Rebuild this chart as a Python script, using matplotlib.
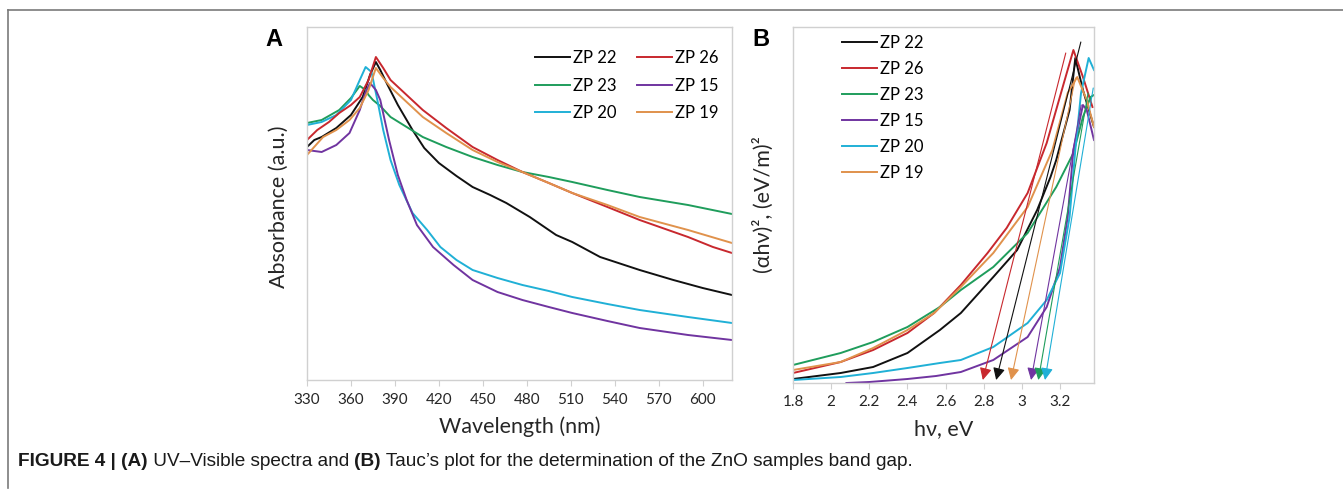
import matplotlib
matplotlib.use("Agg")
import matplotlib.pyplot as plt
from matplotlib.lines import Line2D

# ---- panel A: UV-Vis absorbance (arbitrary units) ----
samples_a = ["ZP 22", "ZP 23", "ZP 20", "ZP 26", "ZP 15", "ZP 19"]

wl_zp22 = [330, 335, 340, 350, 360, 368, 373, 377, 380, 385, 392, 402, 410, 420, 432, 443,
           455, 466, 482, 500, 511, 530, 557, 580, 600, 620]
abs_zp22 = [2.33, 2.40, 2.43, 2.52, 2.65, 2.83, 3.05, 3.18, 3.10, 2.95, 2.75, 2.50, 2.32, 2.17,
            2.04, 1.93, 1.85, 1.77, 1.63, 1.45, 1.38, 1.23, 1.10, 1.00, 0.92, 0.85]

wl_zp20 = [330, 340, 350, 360, 366, 370, 374, 378, 382, 387, 393, 402, 412, 421, 432, 443,
           460, 477, 495, 511, 535, 557, 590, 620]
abs_zp20 = [2.55, 2.58, 2.65, 2.80, 3.00, 3.13, 3.08, 2.80, 2.50, 2.20, 1.95, 1.67, 1.50, 1.33,
            1.20, 1.10, 1.02, 0.95, 0.89, 0.83, 0.76, 0.70, 0.63, 0.57]

wl_zp15 = [330, 340, 350, 359, 366, 370, 373, 377, 380, 386, 392, 398, 405, 416, 430, 443,
           460, 477, 495, 511, 535, 557, 590, 620]
abs_zp15 = [2.30, 2.28, 2.35, 2.47, 2.70, 2.88, 2.97, 2.90, 2.80, 2.40, 2.05, 1.80, 1.55, 1.33,
            1.15, 1.00, 0.88, 0.80, 0.73, 0.67, 0.59, 0.52, 0.45, 0.40]

wl_zp23 = [330, 340, 352, 360, 366, 370, 372, 375, 380, 387, 398, 409, 425, 443, 460, 477,
           495, 511, 535, 557, 590, 620]
abs_zp23 = [2.57, 2.60, 2.70, 2.82, 2.94, 2.90, 2.85, 2.80, 2.74, 2.63, 2.53, 2.43, 2.33, 2.23,
            2.15, 2.08, 2.03, 1.98, 1.90, 1.83, 1.75, 1.66]

wl_zp26 = [330, 337, 345, 352, 360, 366, 372, 377, 382, 387, 398, 409, 425, 443, 460, 477,
           495, 511, 535, 557, 590, 607, 620]
abs_zp26 = [2.40, 2.50, 2.58, 2.67, 2.75, 2.83, 3.00, 3.23, 3.12, 3.00, 2.85, 2.70, 2.52, 2.33,
            2.20, 2.08, 1.97, 1.87, 1.73, 1.60, 1.43, 1.33, 1.27]

wl_zp19 = [330, 341, 350, 359, 366, 372, 377, 382, 387, 398, 409, 425, 443, 460, 477, 495,
           511, 535, 557, 590, 620]
abs_zp19 = [2.25, 2.43, 2.50, 2.60, 2.72, 2.90, 3.12, 3.02, 2.93, 2.78, 2.63, 2.47, 2.30, 2.18,
            2.08, 1.97, 1.87, 1.75, 1.63, 1.50, 1.37]

wl_ticks = [330, 360, 390, 420, 450, 480, 510, 540, 570, 600]

# ---- panel B: Tauc plot ----
samples_b = ["ZP 22", "ZP 26", "ZP 23", "ZP 15", "ZP 20", "ZP 19"]

ev_zp22 = [1.8, 2.05, 2.22, 2.40, 2.57, 2.68, 2.85, 2.975, 3.08, 3.15, 3.18, 3.25, 3.28, 3.32, 3.378]
tauc_zp22 = [0.04, 0.10, 0.16, 0.30, 0.53, 0.70, 1.06, 1.33, 1.73, 2.06, 2.23, 2.73, 3.25, 2.93, 2.56]

ev_zp26 = [1.8, 2.05, 2.22, 2.40, 2.54, 2.68, 2.82, 2.92, 3.03, 3.13, 3.22, 3.27, 3.32, 3.37]
tauc_zp26 = [0.10, 0.21, 0.33, 0.50, 0.70, 0.98, 1.30, 1.55, 1.90, 2.40, 3.00, 3.33, 3.06, 2.76]

ev_zp23 = [1.8, 2.05, 2.22, 2.40, 2.57, 2.68, 2.85, 3.03, 3.18, 3.27, 3.32, 3.36, 3.378]
tauc_zp23 = [0.18, 0.30, 0.41, 0.56, 0.76, 0.93, 1.16, 1.50, 1.96, 2.30, 2.66, 2.86, 2.88]

ev_zp15 = [2.08, 2.20, 2.40, 2.55, 2.68, 2.85, 3.03, 3.13, 3.20, 3.24, 3.27, 3.32, 3.34, 3.378]
tauc_zp15 = [0.00, 0.01, 0.04, 0.07, 0.11, 0.23, 0.46, 0.76, 1.16, 1.66, 2.33, 2.78, 2.73, 2.43]

ev_zp20 = [1.8, 2.05, 2.22, 2.40, 2.57, 2.68, 2.85, 3.03, 3.13, 3.20, 3.25, 3.28, 3.31, 3.35, 3.378]
tauc_zp20 = [0.03, 0.06, 0.10, 0.15, 0.20, 0.23, 0.36, 0.60, 0.83, 1.10, 1.66, 2.33, 2.90, 3.25, 3.13]

ev_zp19 = [1.8, 2.05, 2.22, 2.40, 2.54, 2.68, 2.85, 3.03, 3.16, 3.24, 3.29, 3.34, 3.378]
tauc_zp19 = [0.13, 0.21, 0.35, 0.53, 0.70, 0.96, 1.30, 1.76, 2.33, 2.90, 3.06, 2.83, 2.56]

# band-gap extrapolation: (tip on axis, top end of tangent)
gap_order = ["ZP 26", "ZP 22", "ZP 19", "ZP 15", "ZP 23", "ZP 20"]
gap_ev = [2.795, 2.865, 2.943, 3.048, 3.086, 3.121]
tangent_top_ev = [3.23, 3.309, 3.281, 3.311, 3.347, 3.374]
tangent_top_y = [3.30, 3.41, 3.05, 2.78, 2.90, 2.95]

ev_ticks = [1.8, 2.0, 2.2, 2.4, 2.6, 2.8, 3.0, 3.2]
ev_tick_labels = ["1.8", "2", "2.2", "2.4", "2.6", "2.8", "3", "3.2"]

colors = {
    "ZP 22": "#111111",
    "ZP 26": "#c8282e",
    "ZP 23": "#1f9d5c",
    "ZP 15": "#7034a0",
    "ZP 20": "#20b0d6",
    "ZP 19": "#e0924c",
}

plt.rcParams["font.family"] = ["Lato", "DejaVu Sans"]
W, H = 1343, 500
fig = plt.figure(figsize=(W / 100, H / 100), dpi=100)

spine_col = "#d0d0d0"
text_col = "#262626"


def style_axes(ax):
    for s in ax.spines.values():
        s.set_color(spine_col)
        s.set_linewidth(1.0)
    ax.set_yticks([])
    ax.tick_params(axis="x", length=4, color=spine_col, labelsize=11,
                   labelcolor=text_col, pad=5)


# panel A
axA = fig.add_axes([307 / W, 1 - 380 / H, 425 / W, 353 / H])
data_a = {
    "ZP 22": (wl_zp22, abs_zp22),
    "ZP 23": (wl_zp23, abs_zp23),
    "ZP 20": (wl_zp20, abs_zp20),
    "ZP 26": (wl_zp26, abs_zp26),
    "ZP 15": (wl_zp15, abs_zp15),
    "ZP 19": (wl_zp19, abs_zp19),
}
for name in samples_a:
    x, y = data_a[name]
    axA.plot(x, y, color=colors[name], lw=1.4, label=name)
axA.set_xlim(330, 620)
axA.set_ylim(0, 3.53)
axA.set_xticks(wl_ticks)
style_axes(axA)
axA.set_xlabel("Wavelength (nm)", fontsize=15.5, color=text_col, labelpad=7)
axA.set_ylabel("Absorbance (a.u.)", fontsize=15.5, color=text_col)
axA.yaxis.set_label_coords(-0.042, 0.49)
axA.legend(ncol=2, loc="upper left", bbox_to_anchor=(535 / W, 1 - 50 / H),
           bbox_transform=fig.transFigure, frameon=False, fontsize=12,
           handlelength=2.1, handletextpad=0.2, columnspacing=1.2,
           labelspacing=0.7, borderpad=0, borderaxespad=0)

# panel B
axB = fig.add_axes([793 / W, 1 - 383 / H, 301 / W, 356 / H])
data_b = {
    "ZP 22": (ev_zp22, tauc_zp22),
    "ZP 26": (ev_zp26, tauc_zp26),
    "ZP 23": (ev_zp23, tauc_zp23),
    "ZP 15": (ev_zp15, tauc_zp15),
    "ZP 20": (ev_zp20, tauc_zp20),
    "ZP 19": (ev_zp19, tauc_zp19),
}
for name in samples_b:
    x, y = data_b[name]
    axB.plot(x, y, color=colors[name], lw=1.4, label=name)
for name, tip, tx, ty in zip(gap_order, gap_ev, tangent_top_ev, tangent_top_y):
    axB.annotate("", xy=(tip, 0.03), xytext=(tx, ty),
                 arrowprops=dict(arrowstyle="-|>,head_length=0.6,head_width=0.3",
                                 color=colors[name], lw=0.8, mutation_scale=12,
                                 shrinkA=0, shrinkB=0))
axB.set_xlim(1.8, 3.378)
axB.set_ylim(0, 3.56)
axB.set_xticks(ev_ticks)
axB.set_xticklabels(ev_tick_labels)
style_axes(axB)
axB.set_xlabel("hν, eV", fontsize=15.5, color=text_col, labelpad=7)
axB.set_ylabel("(αhν)², (eV/m)²", fontsize=15.5, color=text_col)
axB.yaxis.set_label_coords(-0.065, 0.5)
axB.legend(loc="upper left", bbox_to_anchor=(842 / W, 1 - 35 / H),
           bbox_transform=fig.transFigure, frameon=False, fontsize=12,
           handlelength=2.1, handletextpad=0.2, labelspacing=0.6,
           borderpad=0, borderaxespad=0)

# panel letters
fig.text(265 / W, 1 - 40 / H, "A", fontsize=17, fontweight="bold",
         family=["Liberation Sans", "DejaVu Sans"], va="center")
fig.text(752 / W, 1 - 40 / H, "B", fontsize=17, fontweight="bold",
         family=["Liberation Sans", "DejaVu Sans"], va="center")

# frame lines
fig.add_artist(Line2D([8 / W, 1], [1 - 10 / H, 1 - 10 / H], transform=fig.transFigure,
                      color="#7a7a7a", lw=1.2))
fig.add_artist(Line2D([8 / W, 8 / W], [1 - 10 / H, 1 - 488 / H], transform=fig.transFigure,
                      color="#7a7a7a", lw=1.2))

# caption with mixed bold / regular pieces
caption = [
    ("FIGURE 4 | ", "bold"),
    ("(A)", "bold"),
    (" UV–Visible spectra and ", "normal"),
    ("(B)", "bold"),
    (" Tauc’s plot for the determination of the ZnO samples band gap.", "normal"),
]
renderer = fig.canvas.get_renderer()
x_px = 18
for txt, weight in caption:
    t = fig.text(x_px / W, 1 - 461 / H, txt, fontsize=13.7, fontweight=weight,
                 family=["Liberation Sans", "DejaVu Sans"],
                 va="center", color="#1a1a1a")
    x_px += t.get_window_extent(renderer=renderer).width

fig.savefig("out.png", dpi=100)
